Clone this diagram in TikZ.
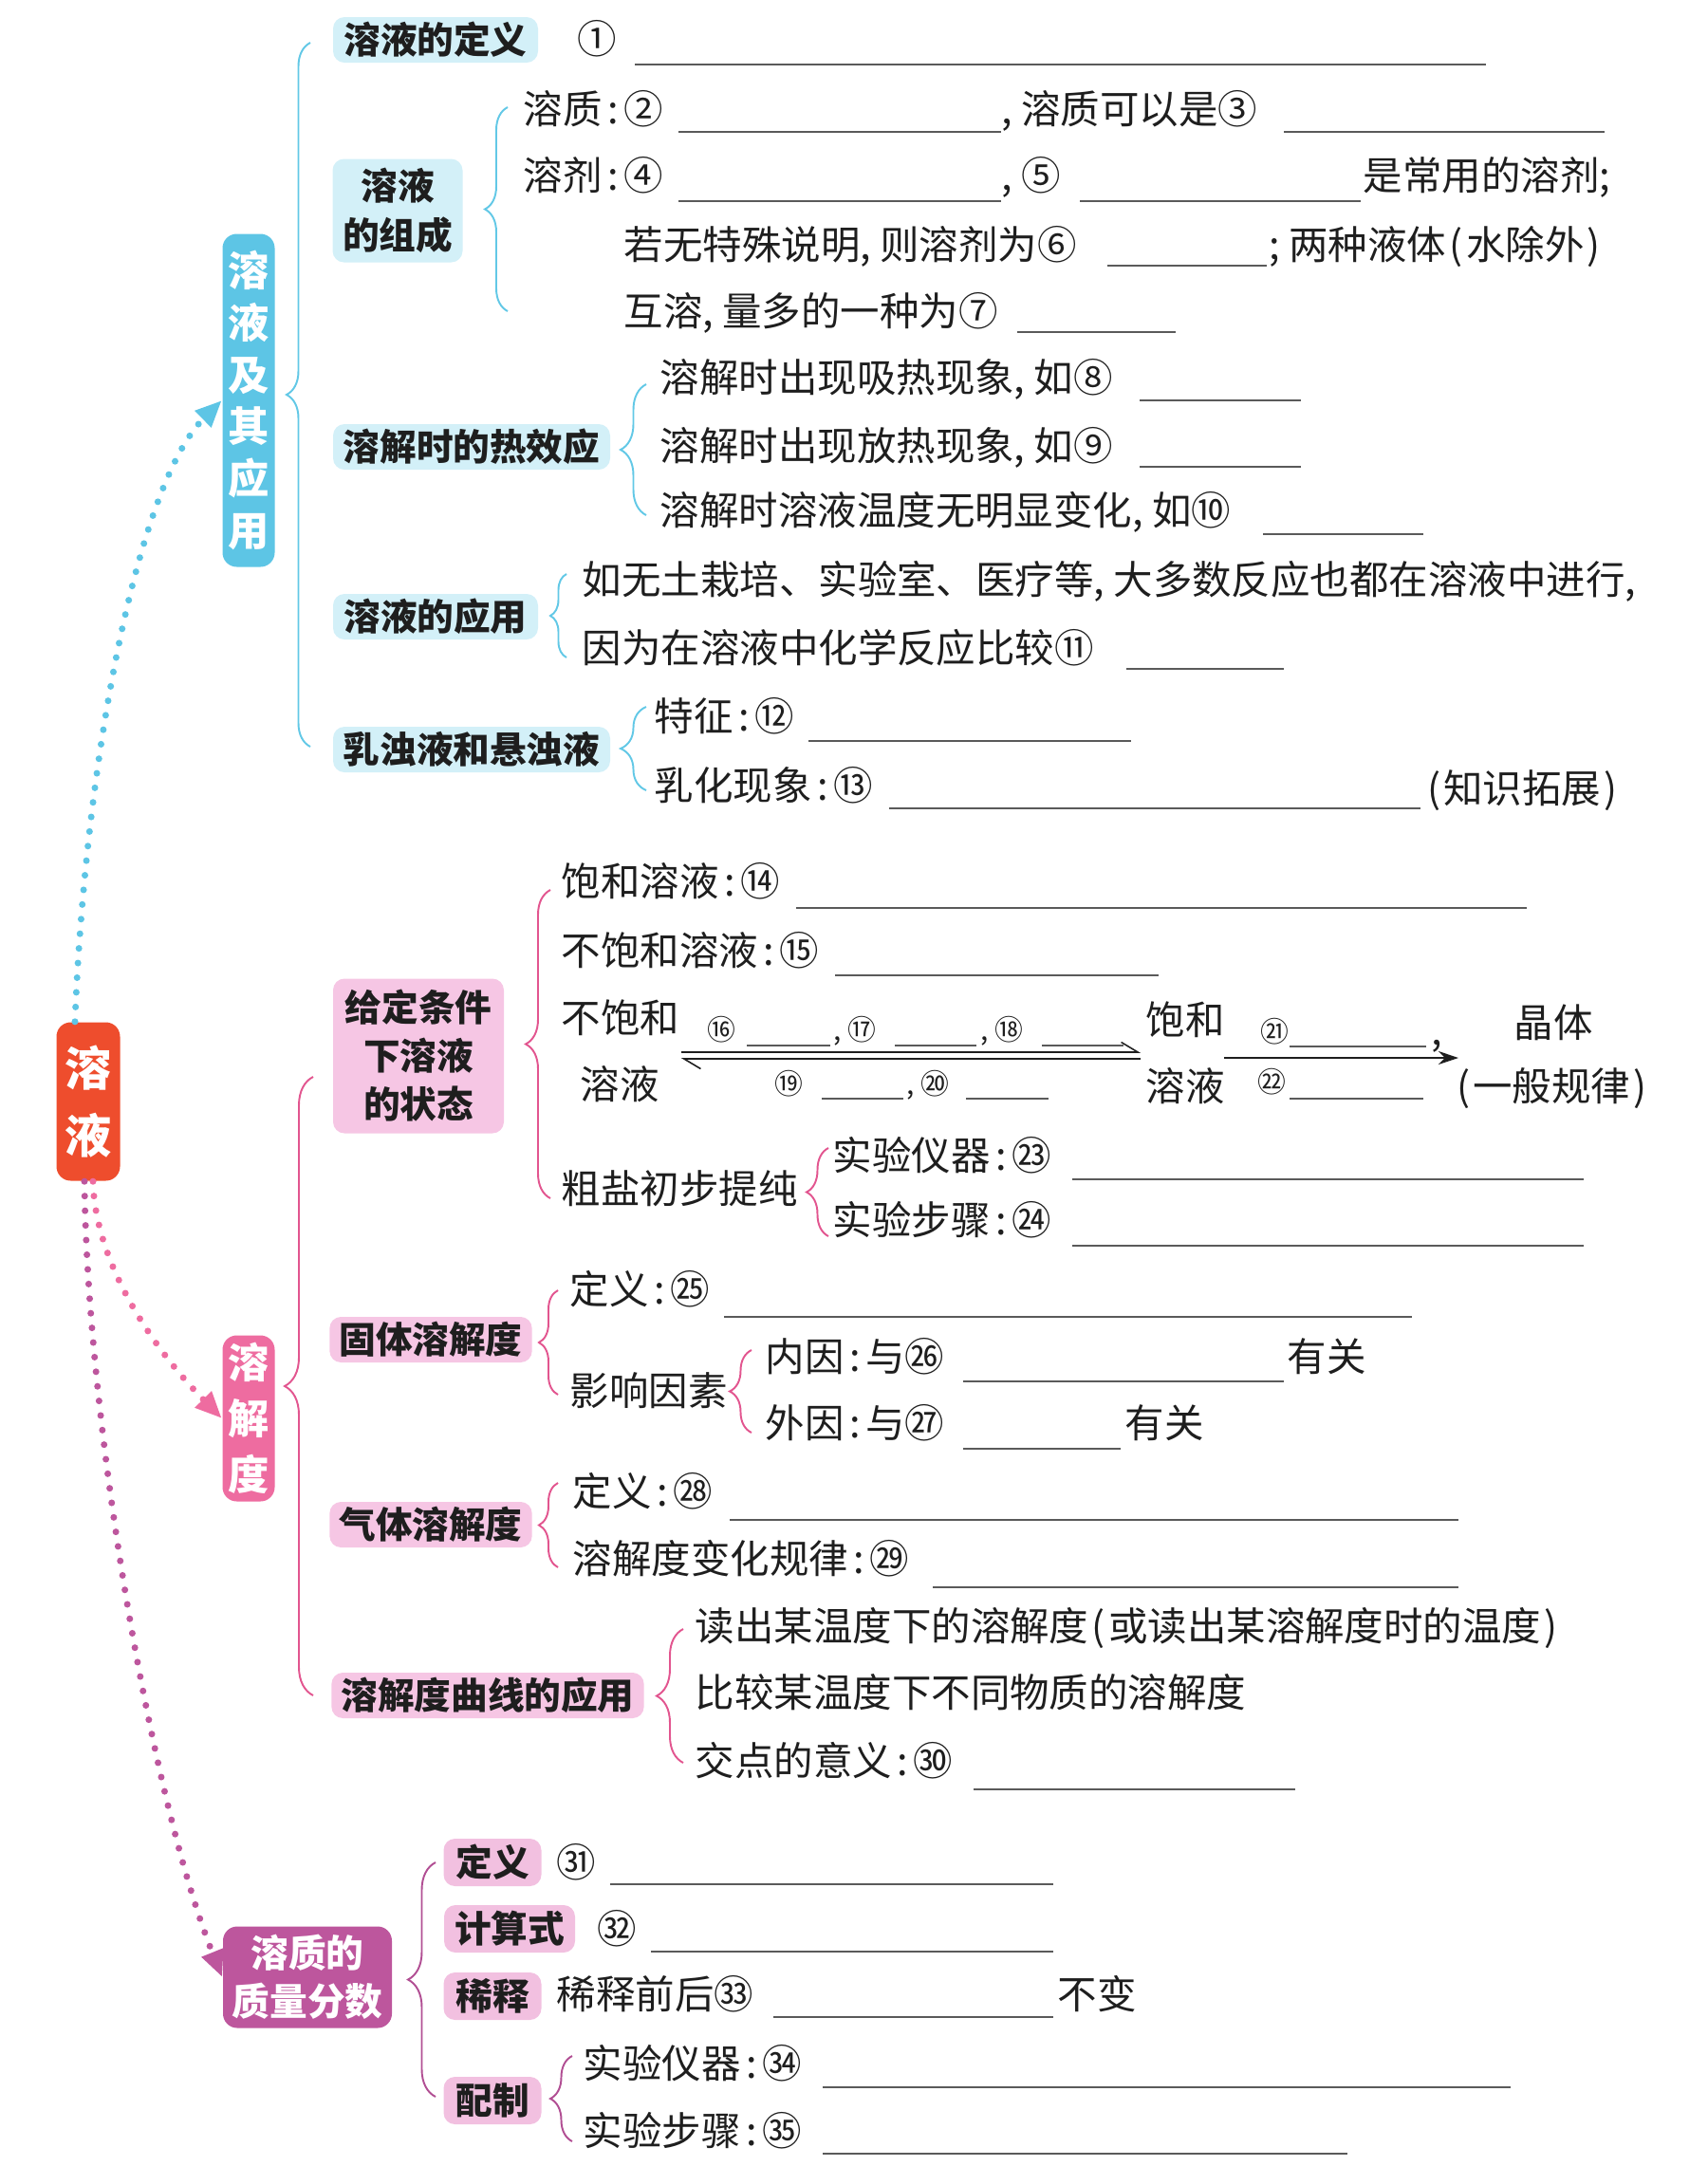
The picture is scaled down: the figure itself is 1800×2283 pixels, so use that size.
\documentclass[tikz,border=0pt]{standalone}
\usepackage{fontspec}
\setmainfont{Noto Sans CJK SC}
\usetikzlibrary{arrows.meta,decorations.pathreplacing}

\definecolor{ink}{HTML}{1E1E1E}
\definecolor{rootred}{HTML}{EE4D2D}
\definecolor{cyandark}{HTML}{5DC5E5}
\definecolor{cyanpale}{HTML}{D3F0F8}
\definecolor{cyanline}{HTML}{62C8E6}
\definecolor{pinkdark}{HTML}{EE6CA0}
\definecolor{pinkpale}{HTML}{F6C6E4}
\definecolor{pinkline}{HTML}{E2558F}
\definecolor{magdark}{HTML}{BD569D}
\definecolor{magpale}{HTML}{F2C0E0}
\definecolor{magline}{HTML}{B14E93}
\definecolor{blankgray}{HTML}{5A5A5A}

% narrow punctuation as printed
\newcommand{\dou}{\makebox[0.5em][l]{,}}
\newcommand{\mh}{\makebox[0.55em][c]{:}}
\newcommand{\fen}{\makebox[0.5em][l]{;}}
\newcommand{\zkh}{\makebox[0.5em][c]{(}}
\newcommand{\ykh}{\makebox[0.5em][c]{)}}

\tikzset{
  topic/.style={rounded corners=1.2mm, inner xsep=1mm, inner ysep=0.4mm,
    minimum height=4.8mm, text=ink, align=center,
    font=\bfseries\fontsize{11}{15}\selectfont},
  ctopic/.style={topic, fill=cyanpale},
  ptopic/.style={topic, fill=pinkpale},
  mtopic/.style={topic, fill=magpale},
  branch/.style={rounded corners=1.5mm, inner sep=0pt, text=white, align=center,
    font=\bfseries\fontsize{12.3}{15.6}\selectfont},
  txt/.style={anchor=west, inner sep=0pt, text=ink, text height=0.88em, text depth=0.12em,
    font=\fontsize{11.8}{14}\selectfont},
  numtxt/.style={txt, font=\fontsize{8.5}{10}\selectfont},
  blank/.style={draw=blankgray, line width=0.45pt},
  brc/.style={draw=#1, line width=0.55pt, decorate},
  dotarrow/.style={draw=#1, line width=2pt, line cap=round, dash pattern=on 0pt off 4.4pt,
    -{Triangle[length=8pt,width=6.5pt,fill=#1]}},
  harp/.style={draw=ink, line width=0.45pt, -{Straight Barb[harpoon,length=5pt,width=6pt]}},
  jiantou/.style={draw=ink, line width=0.5pt, -{Stealth[length=6pt,width=4pt]}},
}

\begin{document}
\begin{tikzpicture}[x=0.1mm,y=-0.1mm]
  \useasboundingbox (0,0) rectangle (1800,2283);

  % root and three branches
  \node[branch, fill=rootred, minimum width=6.7mm, minimum height=16.7mm,
    font=\bfseries\fontsize{14}{20}\selectfont] (rongye) at (93,1161) {溶\\液};
  \node[branch, fill=cyandark, minimum width=5.5mm, minimum height=35.1mm] (yingyong) at (262,422) {溶\\液\\及\\其\\应\\用};
  \node[branch, fill=pinkdark, minimum width=5.5mm, minimum height=17.5mm,
    font=\bfseries\fontsize{12.3}{16.8}\selectfont] (rongjiedu) at (262,1495) {溶\\解\\度};
  \node[branch, fill=magdark, minimum width=17.8mm, minimum height=10.7mm,
    font=\bfseries\fontsize{11.3}{14.5}\selectfont] (fenshu) at (324,2084) {溶质的\\质量分数};

  \draw[dotarrow=cyandark] ([xshift=-1.4mm]rongye.north) .. controls (90,800) and (145,510) .. (yingyong.west);
  \draw[dotarrow=pinkdark] ([xshift=0.5mm]rongye.south) .. controls (100,1330) and (160,1420) .. (rongjiedu.west);
  \draw[dotarrow=magdark] ([xshift=-0.4mm]rongye.south) .. controls (92,1500) and (160,1900) .. (fenshu.west);

  % ---- 溶液及其应用
  \draw[brc=cyanline, decoration={brace,amplitude=2.5mm}] (327,787) -- (327,45);
  \node[ctopic, minimum width=21.6mm] (dingyi) at (459,42) {溶液的定义};
  \node[ctopic, minimum width=13.7mm, minimum height=10.9mm] (zucheng) at (419,222) {溶液\\的组成};
  \node[ctopic, minimum width=29.2mm] (rexiao) at (497,471) {溶解时的热效应};
  \node[ctopic, minimum width=21.6mm] (yyong) at (459,650) {溶液的应用};
  \node[ctopic, minimum width=29.2mm] (ruzhuo) at (497,790) {乳浊液和悬浊液};

  \node[txt] (n1) at (608,43) {①};
  \draw[blank] (669,68) -- (1566,68);

  \draw[brc=cyanline, decoration={brace,amplitude=2.4mm}] (535,328) -- (535,113);
  \node[txt] (zhi) at (551,117) {溶质\mh②};
  \draw[blank] (715,139) -- (1055,139);
  \node[txt] (zhi3) at (1055,117) {\dou{}溶质可以是③};
  \draw[blank] (1353,139) -- (1691,139);
  \node[txt] (ji) at (551,187) {溶剂\mh④};
  \draw[blank] (715,212) -- (1055,212);
  \node[txt] (ji5) at (1055,187) {\dou{}⑤};
  \draw[blank] (1138,212) -- (1434,212);
  \node[txt] (ji5b) at (1436,187) {是常用的溶剂;};
  \node[txt] (ji6) at (657,260) {若无特殊说明\dou{}则溶剂为⑥};
  \draw[blank] (1167,280) -- (1335,280);
  \node[txt] (ji6b) at (1337,260) {\fen{}两种液体\zkh{}水除外\ykh{}};
  \node[txt] (ji7) at (657,330) {互溶\dou{}量多的一种为⑦};
  \draw[blank] (1072,350) -- (1239,350);

  \draw[brc=cyanline, decoration={brace,amplitude=2.7mm}] (681,543) -- (681,405);
  \node[txt] (xi) at (695,400) {溶解时出现吸热现象\dou{}如⑧};
  \draw[blank] (1201,422) -- (1371,422);
  \node[txt] (fang) at (695,472) {溶解时出现放热现象\dou{}如⑨};
  \draw[blank] (1201,492) -- (1371,492);
  \node[txt] (wu) at (695,540) {溶解时溶液温度无明显变化\dou{}如⑩};
  \draw[blank] (1331,563) -- (1500,563);

  \draw[brc=cyanline, decoration={brace,amplitude=1.7mm}] (597,693) -- (597,605);
  \node[txt] (app1) at (613,613) {如无土栽培、实验室、医疗等\dou{}大多数反应也都在溶液中进行\dou{}};
  \node[txt] (app2) at (613,685) {因为在溶液中化学反应比较⑪};
  \draw[blank] (1187,705) -- (1353,705);

  \draw[brc=cyanline, decoration={brace,amplitude=2.7mm}] (681,833) -- (681,745);
  \node[txt] (tz) at (689,757) {特征\mh⑫};
  \draw[blank] (852,781) -- (1192,781);
  \node[txt] (rh) at (689,830) {乳化现象\mh⑬};
  \draw[blank] (937,852) -- (1497,852);
  \node[txt] (tuozhan) at (1500,833) {\zkh{}知识拓展\ykh{}};

  % ---- 溶解度
  \draw[brc=pinkline, decoration={brace,amplitude=3mm}] (330,1787) -- (330,1135);
  \node[ptopic, minimum width=18mm, minimum height=16.3mm,
    font=\bfseries\fontsize{11}{14.5}\selectfont] (zhuangtai) at (441,1113) {给定条件\\下溶液\\的状态};
  \node[ptopic, minimum width=20.6mm] (guti) at (454,1412) {固体溶解度};
  \node[ptopic, minimum width=20.6mm] (qiti) at (454,1607) {气体溶解度};
  \node[ptopic, minimum width=32.6mm] (quxian) at (514,1787) {溶解度曲线的应用};

  \draw[brc=pinkline, decoration={brace,amplitude=2.6mm}] (580,1263) -- (580,938);
  \node[txt] (bh) at (591,931) {饱和溶液\mh⑭};
  \draw[blank] (839,957) -- (1609,957);
  \node[txt] (bbh) at (591,1004) {不饱和溶液\mh⑮};
  \draw[blank] (880,1028) -- (1221,1028);
  \node[txt] (bbh1) at (591,1075) {不饱和};
  \node[txt] (bbh2) at (611,1145) {溶液};
  \node[numtxt] (c16) at (745,1083) {⑯};
  \draw[blank] (787,1102) -- (875,1102);
  \node[numtxt] (c17) at (878,1083) {\dou{}⑰};
  \draw[blank] (943,1102) -- (1029,1102);
  \node[numtxt] (c18) at (1033,1083) {\dou{}⑱};
  \draw[blank] (1098,1102) -- (1184,1102);
  \coordinate (eqa) at (718,1109);
  \coordinate (eqb) at (1202,1109);
  \coordinate (eqc) at (1202,1116);
  \coordinate (eqd) at (718,1116);
  \draw[harp] (eqa) -- (eqb);
  \draw[harp] (eqc) -- (eqd);
  \node[numtxt] (c19) at (816,1140) {⑲};
  \draw[blank] (866,1158) -- (952,1158);
  \node[numtxt] (c20) at (955,1140) {\dou{}⑳};
  \draw[blank] (1018,1158) -- (1105,1158);
  \node[txt] (bh1) at (1207,1077) {饱和};
  \node[txt] (bh2) at (1207,1147) {溶液};
  \node[numtxt] (c21) at (1328,1085) {㉑};
  \draw[blank] (1359,1103) -- (1503,1103);
  \node[txt] (d21) at (1508,1088) {,};
  \coordinate (jta) at (1290,1115);
  \coordinate (jtb) at (1537,1115);
  \draw[jiantou] (jta) -- (jtb);
  \node[txt] (jingti) at (1595,1080) {晶体};
  \node[numtxt] (c22) at (1325,1138) {㉒};
  \draw[blank] (1359,1158) -- (1500,1158);
  \node[txt] (guilv) at (1531,1147) {\zkh{}一般规律\ykh{}};

  \node[txt] (cy) at (591,1255) {粗盐初步提纯};
  \draw[brc=pinkline, decoration={brace,amplitude=2.3mm}] (873,1303) -- (873,1210);
  \node[txt] (yq) at (877,1220) {实验仪器\mh㉓};
  \draw[blank] (1130,1243) -- (1669,1243);
  \node[txt] (bz) at (877,1288) {实验步骤\mh㉔};
  \draw[blank] (1130,1313) -- (1669,1313);

  \draw[brc=pinkline, decoration={brace,amplitude=2mm}] (588,1470) -- (588,1360);
  \node[txt] (gdy) at (600,1361) {定义\mh㉕};
  \draw[blank] (763,1388) -- (1488,1388);
  \node[txt] (yx) at (600,1468) {影响因素};
  \draw[brc=pinkline, decoration={brace,amplitude=2.3mm}] (792,1510) -- (792,1423);
  \node[txt] (ny) at (806,1432) {内因\mh 与㉖};
  \draw[blank] (1015,1456) -- (1353,1456);
  \node[txt] (yg1) at (1356,1432) {有关};
  \node[txt] (wy) at (806,1502) {外因\mh 与㉗};
  \draw[blank] (1015,1527) -- (1181,1527);
  \node[txt] (yg2) at (1185,1502) {有关};

  \draw[brc=pinkline, decoration={brace,amplitude=2mm}] (588,1652) -- (588,1563);
  \node[txt] (qdy) at (603,1574) {定义\mh㉘};
  \draw[blank] (769,1602) -- (1537,1602);
  \node[txt] (gl) at (603,1645) {溶解度变化规律\mh㉙};
  \draw[blank] (983,1673) -- (1537,1673);

  \draw[brc=pinkline, decoration={brace,amplitude=2.8mm}] (720,1858) -- (720,1717);
  \node[txt] (dc) at (732,1716) {读出某温度下的溶解度\zkh{}或读出某溶解度时的温度\ykh{}};
  \node[txt] (bj) at (732,1786) {比较某温度下不同物质的溶解度};
  \node[txt] (jd) at (732,1858) {交点的意义\mh㉚};
  \draw[blank] (1026,1886) -- (1365,1886);

  % ---- 溶质的质量分数
  \draw[brc=magline, decoration={brace,amplitude=2.9mm}] (459,2210) -- (459,1963);
  \node[mtopic, minimum width=10.3mm, minimum height=5mm] (dy) at (519,1963) {定义};
  \node[mtopic, minimum width=13.8mm, minimum height=5mm] (jisuan) at (537,2033) {计算式};
  \node[mtopic, minimum width=10.3mm, minimum height=5mm] (xishi) at (519,2104) {稀释};
  \node[mtopic, minimum width=10.3mm, minimum height=5mm] (peizhi) at (519,2214) {配制};

  \node[txt] (n31) at (586,1965) {㉛};
  \draw[blank] (643,1986) -- (1110,1986);
  \node[txt] (n32) at (629,2035) {㉜};
  \draw[blank] (686,2057) -- (1110,2057);
  \node[txt] (xsq) at (586,2104) {稀释前后㉝};
  \draw[blank] (815,2126) -- (1110,2126);
  \node[txt] (bb) at (1114,2104) {不变};
  \draw[brc=magline, decoration={brace,amplitude=2.3mm}] (603,2257) -- (603,2167);
  \node[txt] (pyq) at (614,2177) {实验仪器\mh㉞};
  \draw[blank] (867,2200) -- (1592,2200);
  \node[txt] (pbz) at (614,2248) {实验步骤\mh㉟};
  \draw[blank] (867,2270) -- (1420,2270);
\end{tikzpicture}
\end{document}
